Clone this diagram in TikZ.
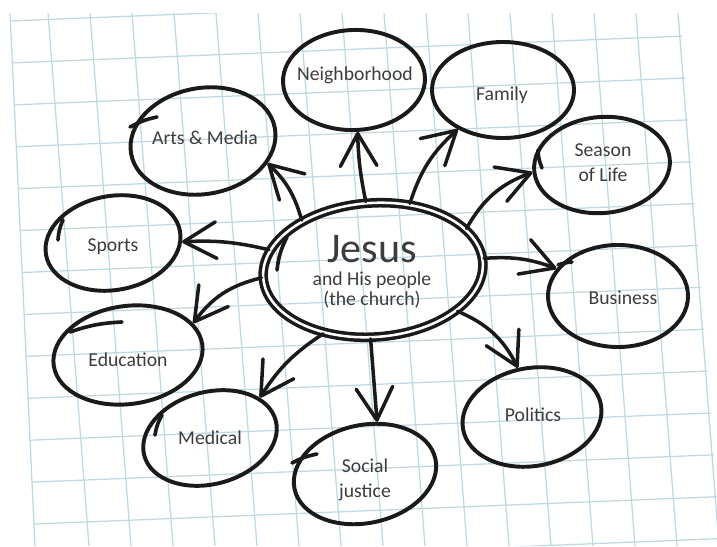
\documentclass[tikz,border=0pt]{standalone}
\usepackage{fontspec}
\setmainfont{Carlito}
\usetikzlibrary{shapes.geometric,arrows.meta}
\definecolor{gridblue}{RGB}{190,216,228}
\definecolor{ink}{RGB}{26,26,26}
\tikzset{
  gridline/.style={gridblue, line width=0.9pt},
  bubble/.style={ellipse, draw=ink, line width=2.8pt, inner sep=0pt},
  hand/.style={font=\fontsize{14}{18}\selectfont, text=ink!85, align=center},
  link/.style={draw=ink, line width=2.5pt, line cap=round,
    -{Straight Barb[length=23pt,width=26pt,round]}},
  tail/.style={draw=ink, line width=2.6pt, line cap=round},
}

\begin{document}
\begin{tikzpicture}[x=0.025cm,y=-0.025cm]
  \useasboundingbox (0,0) rectangle (717,546);

  %paper
  \begin{scope}
    \clip (10,13) -- (680,13) -- (721,546) -- (35,546) -- cycle;
    \foreach \k in {0,...,16}
      \draw[gridline] (48+42*\k,13) -- ++(41,533);
    \foreach \m in {0,...,13}
      \draw[gridline] (0,21.4+42*\m) -- ++(730,-29.2);
  \end{scope}
  \draw[gridline] (10,13) -- (35,546);

  %middle
  \node[bubble, line width=2.5pt, double=white, double distance=1.8pt,
    minimum width=5.5cm, minimum height=3.35cm, rotate=4] (jesus) at (373,270) {};
  \node[hand, font=\fontsize{30}{30}\selectfont] (jesustxt) at (372,249) {Jesus};
  \node[hand, font=\fontsize{14}{14.5}\selectfont] (churchtxt) at (372,290)
    {and His people\\(the church)};

  %ring
  \node[bubble, minimum width=3.65cm, minimum height=2.65cm, rotate=10] (arts) at (203,141) {};
  \node[hand] (artstxt) at (205,138) {Arts \& Media};
  \node[bubble, minimum width=3.55cm, minimum height=2.5cm, rotate=2] (neigh) at (354,80) {};
  \node[hand] (neightxt) at (355,75) {Neighborhood};
  \node[bubble, minimum width=3.55cm, minimum height=2.4cm] (family) at (503,90) {};
  \node[hand] (familytxt) at (502,95) {Family};
  \node[bubble, minimum width=3.4cm, minimum height=2.4cm, rotate=5] (season) at (602,165) {};
  \node[hand] (seasontxt) at (603,163) {Season\\of Life};
  \node[bubble, minimum width=3.5cm, minimum height=2.55cm] (business) at (618,296) {};
  \node[hand] (businesstxt) at (623,298) {Business};
  \node[bubble, minimum width=3.5cm, minimum height=2.45cm, rotate=10] (politics) at (532,417) {};
  \node[hand] (politicstxt) at (533,415) {Politics};
  \node[bubble, minimum width=3.6cm, minimum height=2.45cm, rotate=12] (social) at (365,474) {};
  \node[hand] (socialtxt) at (365,480) {Social\\justice};
  \node[bubble, minimum width=3.4cm, minimum height=2.3cm, rotate=15] (medical) at (210,438) {};
  \node[hand] (medicaltxt) at (210,438) {Medical};
  \node[bubble, minimum width=3.75cm, minimum height=2.45cm, rotate=8] (education) at (128,355) {};
  \node[hand] (educationtxt) at (128,360) {Education};
  \node[bubble, minimum width=3.4cm, minimum height=2.35cm, rotate=10] (sports) at (113,243) {};
  \node[hand] (sportstxt) at (113,247) {Sports};

  %pen tails
  \draw[tail] (130,127) to[bend left=8] (157,117);
  \draw[tail] (277,270) to[bend left=10] (287,237);
  \draw[tail] (538,150) to[bend right=10] (542,168);
  \draw[tail] (558,265) to[bend left=8] (572,262);
  \draw[tail] (292,463) to[bend left=8] (317,454);
  \draw[tail] (155,435) to[bend left=10] (162,415);
  \draw[tail] (70,332) to[bend left=8] (122,322);
  \draw[tail] (58,240) to[bend left=10] (63,220);

  %arrows
  \draw[link] (jesus.141) to[bend right=15] (arts.-29);
  \draw[link] (jesus.92) to[bend left=5] (neigh.-88);
  \draw[link] (jesus.57) to[bend left=15] (family.-139);
  \draw[link] (jesus.20) to[bend left=20] (season.181);
  \draw[link] (jesus.2) to[bend left=12] (business.156);
  \draw[link] (jesus.-30) to[bend left=20] (politics.96);
  \draw[link] (jesus.-96) -- (social.65);
  \draw[link] (jesus.-132) to[bend right=12] (medical.24);
  \draw[link] (jesus.180) to[bend right=20] (education.18);
  \draw[link] (jesus.165) to[bend right=8] (sports.-9);
\end{tikzpicture}
\end{document}
